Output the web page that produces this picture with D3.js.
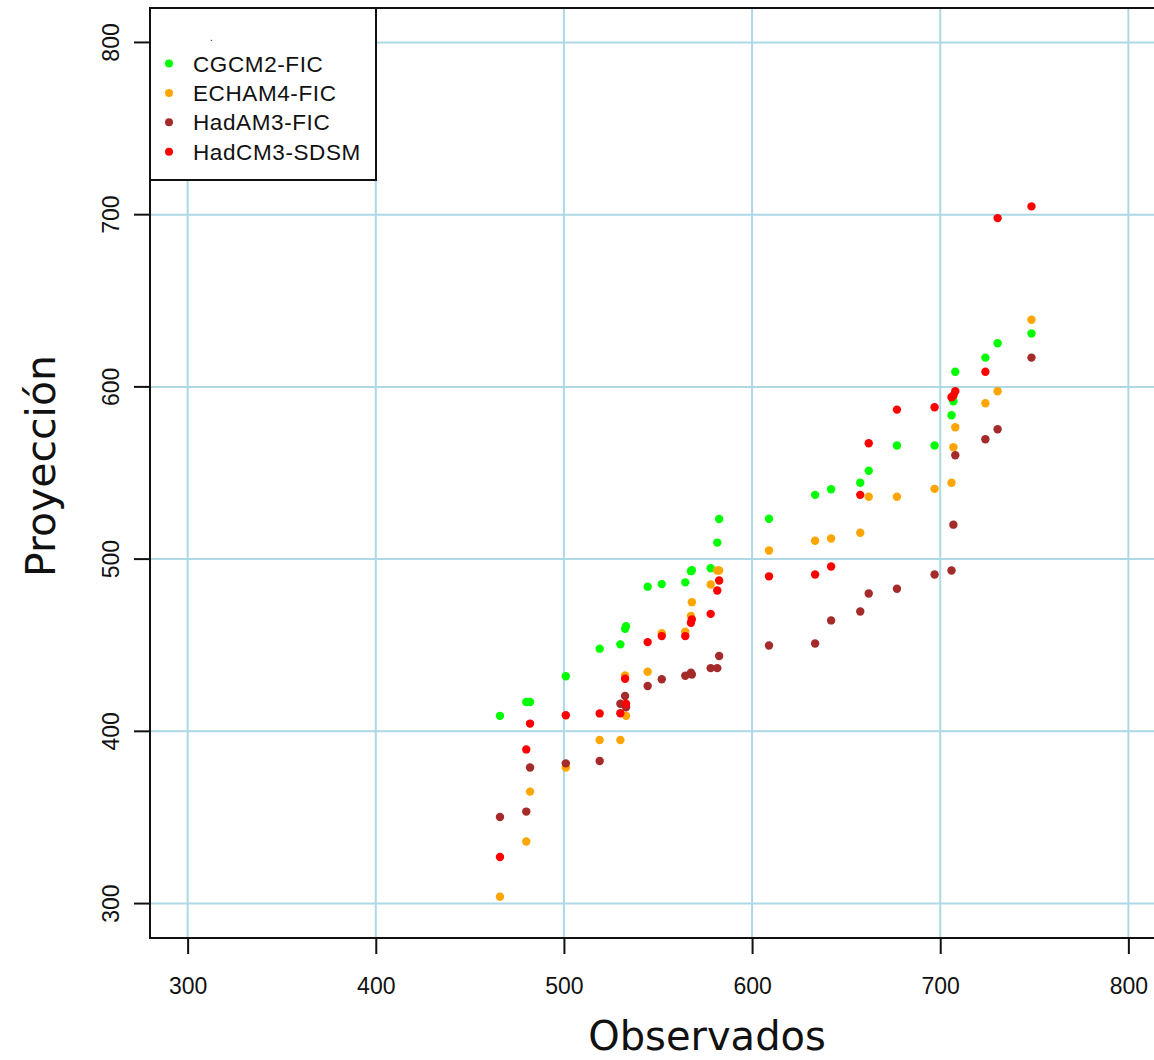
<!DOCTYPE html>
<html>
<head>
<meta charset="utf-8">
<script src="https://cdn.jsdelivr.net/npm/d3@7"></script>
<style>
  html, body { margin: 0; padding: 0; background: #fff; }
  svg { display: block; }
</style>
</head>
<body>
<svg id="chart" width="1154" height="1060"></svg>
<script>
// Observed annual values (x) shared by every model series
const observados = [466, 480, 482, 501, 519, 530, 532.5, 533, 544.5, 552, 564.5, 567.5, 568, 578, 581.5, 582.5,
  609, 633.5, 642, 657.5, 662, 677, 697, 706, 707, 708, 724, 730.5, 748.5];

// Projected values per model, aligned with observados
const cgcm2Fic = [409, 417, 417, 432, 448, 450.5, 459.5, 461, 484, 485.5, 486.5, 493, 493.5, 494.7, 509.6, 523.3,
  523.4, 537.3, 540.6, 544.3, 551.3, 566, 566, 583.5, 591.7, 608.8, 617, 625.3, 631];
const echam4Fic = [304, 336, 365, 379, 395, 395, 432.5, 409, 434.6, 457, 457.8, 467, 475, 485.3, 493.4, 493.4,
  505, 510.7, 512, 515.3, 536.2, 536.2, 540.8, 544.3, 565, 576.6, 590.5, 597.5, 639];
const hadam3Fic = [350.3, 353.4, 379, 381.4, 382.8, 416, 420.5, 414, 426.3, 430.2, 432.3, 434, 433, 436.7, 436.7, 443.7,
  449.8, 451, 464.4, 469.6, 480, 482.8, 491.1, 493.4, 520, 560.3, 569.6, 575.4, 617];
const hadcm3Sdsm = [327, 389.5, 404.5, 409.3, 410.4, 410.5, 430.5, 416, 451.8, 455.3, 455.3, 463, 465, 468.2, 481.8, 487.6,
  490, 491.1, 495.7, 537.3, 567.3, 586.8, 588.2, 594, 595, 597.5, 608.8, 698, 704.8];

const seriesNames = ["CGCM2-FIC", "ECHAM4-FIC", "HadAM3-FIC", "HadCM3-SDSM"];
const seriesColors = ["#00ff00", "#ffa500", "#a52a2a", "#ff0000"];
const seriesValues = [cgcm2Fic, echam4Fic, hadam3Fic, hadcm3Sdsm];

const xTicks = [300, 400, 500, 600, 700, 800];
const yTicks = [300, 400, 500, 600, 700, 800];

const svg = d3.select("#chart");
const plot = { left: 150, top: 8, right: 1166, bottom: 938 };

const x = d3.scaleLinear().domain([280, 820]).range([plot.left, plot.right]);
const y = d3.scaleLinear().domain([280, 820]).range([plot.bottom, plot.top]);

// grid
const grid = svg.append("g").attr("stroke", "#add8e6").attr("stroke-width", 2);
grid.selectAll("line.v").data(xTicks).join("line")
  .attr("x1", d => x(d)).attr("x2", d => x(d))
  .attr("y1", plot.top).attr("y2", plot.bottom);
grid.selectAll("line.h").data(yTicks).join("line")
  .attr("x1", plot.left).attr("x2", plot.right)
  .attr("y1", d => y(d)).attr("y2", d => y(d));

// points
seriesValues.forEach((vals, i) => {
  svg.append("g").attr("fill", seriesColors[i])
    .selectAll("circle").data(vals.map((v, j) => [observados[j], v])).join("circle")
    .attr("cx", d => x(d[0])).attr("cy", d => y(d[1])).attr("r", 4.2);
});

// axes
const xAxis = d3.axisBottom(x).tickValues(xTicks).tickSize(16).tickPadding(24).tickSizeOuter(0);
const yAxis = d3.axisLeft(y).tickValues(yTicks).tickSize(16).tickPadding(10).tickSizeOuter(0);

const gx = svg.append("g").attr("transform", `translate(0,${plot.bottom})`).call(xAxis);
const gy = svg.append("g").attr("transform", `translate(${plot.left},0)`).call(yAxis);
[gx, gy].forEach(g => {
  g.select(".domain").remove();
  g.selectAll(".tick line").attr("stroke", "#111").attr("stroke-width", 2);
  g.selectAll(".tick text").attr("fill", "#111")
    .style("font-family", "'Liberation Sans', Arial, sans-serif").style("font-size", "23px");
});
// y tick labels run vertically, centred left of the ticks
gy.selectAll(".tick").attr("transform", null);
gy.selectAll(".tick line").attr("y1", d => y(d)).attr("y2", d => y(d));
gy.selectAll(".tick text")
  .attr("transform", d => `translate(-39,${y(d)}) rotate(-90)`)
  .attr("x", 0).attr("y", 0).attr("dy", "0.35em")
  .attr("text-anchor", "middle");

// plot frame (left, top, bottom)
svg.append("path")
  .attr("d", `M${plot.right},${plot.top} H${plot.left} V${plot.bottom} H${plot.right}`)
  .attr("fill", "none").attr("stroke", "#111").attr("stroke-width", 2);

// legend
const lg = svg.append("g");
lg.append("rect").attr("x", 150).attr("y", 8).attr("width", 226).attr("height", 172)
  .attr("fill", "#fff").attr("stroke", "#111").attr("stroke-width", 2);
lg.append("text").attr("x", 210).attr("y", 41).text(".")
  .style("font-family", "'Liberation Sans', Arial, sans-serif").style("font-size", "10px").attr("fill", "#111");
seriesNames.forEach((name, i) => {
  const yy = 63.5 + i * 29.4;
  lg.append("circle").attr("cx", 169).attr("cy", yy).attr("r", 4).attr("fill", seriesColors[i]);
  lg.append("text").attr("x", 193).attr("y", yy).attr("dy", "0.36em").text(name)
    .style("font-family", "'Liberation Sans', Arial, sans-serif").style("font-size", "22.5px")
    .style("letter-spacing", "0.6px").attr("fill", "#111");
});

// axis titles
svg.append("text").attr("x", 707).attr("y", 1050).attr("text-anchor", "middle")
  .style("font-family", "'DejaVu Sans', Verdana, sans-serif").style("font-size", "40px")
  .attr("fill", "#111").text("Observados");
svg.append("text").attr("transform", "translate(55,466) rotate(-90)").attr("text-anchor", "middle")
  .style("font-family", "'DejaVu Sans', Verdana, sans-serif").style("font-size", "41px")
  .attr("fill", "#111").text("Proyección");
</script>
</body>
</html>
